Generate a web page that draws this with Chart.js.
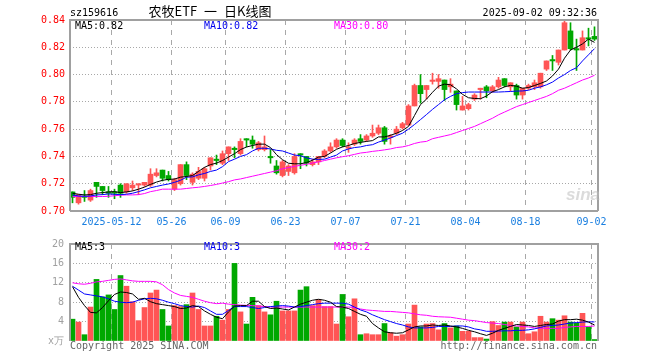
<!DOCTYPE html>
<html><head><meta charset="utf-8">
<script src="https://cdn.jsdelivr.net/npm/chart.js@4/dist/chart.umd.min.js"></script>
<style>
html,body{margin:0;padding:0;background:#fff;}
#wrap{position:relative;width:660px;height:360px;overflow:hidden;background:#fff;}
canvas{position:absolute;left:0;}
.t{position:absolute;white-space:pre;font-family:"DejaVu Sans Mono",monospace;font-size:10px;line-height:10px;}
</style></head>
<body><div id="wrap">
<canvas id="kc" width="660" height="232" style="top:0px;width:660px;height:232px"></canvas>
<canvas id="vc" width="660" height="128" style="top:232px;width:660px;height:128px"></canvas>
<div class="t" style="left:70px;top:8px;color:#000">sz159616</div>
<div class="t" style="left:110px;top:4px;width:200px;text-align:center;font-family:'Noto Sans CJK SC',sans-serif;font-size:13px;line-height:13px;word-spacing:4px;color:#000">农牧ETF 一 日K线图</div>
<div class="t" style="right:63px;top:8px;color:#000">2025-09-02 09:32:36</div>
<div class="t" style="left:75px;top:21px;color:#000">MA5:0.82</div>
<div class="t" style="left:204px;top:21px;color:#0000ee">MA10:0.82</div>
<div class="t" style="left:334px;top:21px;color:#ff00ff">MA30:0.80</div>
<div class="t" style="left:75px;top:242px;color:#000">MA5:3</div>
<div class="t" style="left:204px;top:242px;color:#0000ee">MA10:3</div>
<div class="t" style="left:334px;top:242px;color:#ff00ff">MA30:2</div>
<div class="t" style="left:70px;top:341px;color:#666">Copyright 2025 SINA.COM</div>
<div class="t" style="right:63px;top:341px;color:#666">http://finance.sina.com.cn</div>
<div class="t" style="left:566px;top:186px;font-family:'Liberation Sans',sans-serif;font-size:17px;line-height:17px;font-style:italic;font-weight:bold;color:rgba(190,190,190,0.55)">sina</div>
</div>
<script>
const dates = ['2025-04-28','2025-04-29','2025-04-30','2025-05-06','2025-05-07','2025-05-08','2025-05-09','2025-05-12','2025-05-13','2025-05-14','2025-05-15','2025-05-16','2025-05-19','2025-05-20','2025-05-21','2025-05-22','2025-05-23','2025-05-26','2025-05-27','2025-05-28','2025-05-29','2025-05-30','2025-06-03','2025-06-04','2025-06-05','2025-06-06','2025-06-09','2025-06-10','2025-06-11','2025-06-12','2025-06-13','2025-06-16','2025-06-17','2025-06-18','2025-06-19','2025-06-20','2025-06-23','2025-06-24','2025-06-25','2025-06-26','2025-06-27','2025-06-30','2025-07-01','2025-07-02','2025-07-03','2025-07-04','2025-07-07','2025-07-08','2025-07-09','2025-07-10','2025-07-11','2025-07-14','2025-07-15','2025-07-16','2025-07-17','2025-07-18','2025-07-21','2025-07-22','2025-07-23','2025-07-24','2025-07-25','2025-07-28','2025-07-29','2025-07-30','2025-07-31','2025-08-01','2025-08-04','2025-08-05','2025-08-06','2025-08-07','2025-08-08','2025-08-11','2025-08-12','2025-08-13','2025-08-14','2025-08-15','2025-08-18','2025-08-19','2025-08-20','2025-08-21','2025-08-22','2025-08-25','2025-08-26','2025-08-27','2025-08-28','2025-08-29','2025-09-01','2025-09-02'];

const open = [0.714,0.706,0.711,0.708,0.721,0.718,0.714,0.714,0.719,0.714,
0.717,0.719,0.719,0.719,0.726,0.730,0.726,0.716,0.720,0.734,
0.721,0.724,0.724,0.733,0.738,0.735,0.742,0.746,0.742,0.753,
0.752,0.745,0.745,0.740,0.733,0.726,0.729,0.728,0.742,0.740,
0.734,0.736,0.740,0.744,0.747,0.752,0.746,0.749,0.753,0.752,
0.755,0.757,0.761,0.754,0.757,0.761,0.763,0.777,0.792,0.789,
0.795,0.795,0.796,0.791,0.788,0.774,0.775,0.782,0.789,0.791,
0.788,0.791,0.797,0.791,0.792,0.785,0.790,0.791,0.791,0.804,
0.811,0.809,0.818,0.832,0.819,0.818,0.827,0.828];

const high = [0.714,0.712,0.715,0.716,0.721,0.718,0.718,0.716,0.720,0.720,
0.722,0.720,0.721,0.731,0.731,0.730,0.729,0.724,0.734,0.736,
0.728,0.732,0.732,0.739,0.741,0.744,0.747,0.747,0.753,0.753,
0.755,0.751,0.755,0.745,0.737,0.737,0.734,0.742,0.742,0.740,
0.738,0.740,0.745,0.750,0.753,0.753,0.750,0.753,0.756,0.756,
0.763,0.763,0.762,0.756,0.762,0.765,0.778,0.793,0.800,0.792,
0.801,0.800,0.796,0.797,0.788,0.784,0.779,0.786,0.790,0.792,
0.792,0.798,0.797,0.794,0.793,0.790,0.793,0.796,0.801,0.810,
0.814,0.818,0.840,0.838,0.826,0.832,0.834,0.835];

const low = [0.706,0.705,0.707,0.707,0.710,0.712,0.710,0.709,0.710,0.713,
0.715,0.712,0.718,0.718,0.725,0.722,0.722,0.715,0.719,0.723,
0.719,0.723,0.722,0.730,0.734,0.734,0.737,0.739,0.741,0.747,
0.746,0.744,0.744,0.735,0.727,0.725,0.726,0.727,0.731,0.733,
0.733,0.734,0.739,0.743,0.746,0.747,0.743,0.748,0.749,0.751,
0.754,0.756,0.749,0.749,0.756,0.760,0.763,0.777,0.779,0.782,
0.793,0.790,0.781,0.787,0.774,0.774,0.774,0.781,0.782,0.783,
0.787,0.790,0.791,0.788,0.782,0.782,0.789,0.789,0.790,0.803,
0.803,0.807,0.818,0.818,0.803,0.818,0.821,0.825];

const close = [0.710,0.712,0.710,0.715,0.718,0.715,0.713,0.713,0.713,0.720,
0.719,0.720,0.721,0.727,0.728,0.724,0.723,0.723,0.734,0.726,
0.727,0.729,0.731,0.739,0.737,0.742,0.747,0.745,0.751,0.752,
0.749,0.750,0.747,0.739,0.728,0.736,0.733,0.740,0.741,0.735,
0.736,0.740,0.744,0.747,0.752,0.748,0.747,0.752,0.751,0.755,
0.757,0.761,0.751,0.755,0.760,0.764,0.777,0.792,0.786,0.792,
0.796,0.797,0.789,0.793,0.778,0.777,0.778,0.785,0.790,0.788,
0.791,0.796,0.792,0.794,0.785,0.790,0.792,0.794,0.801,0.810,
0.810,0.818,0.838,0.819,0.818,0.827,0.826,0.826];

const ma5 = [0.713,0.7123,0.7118,0.712,0.713,0.7135,0.714,0.7142,0.7135,0.714,
0.7147,0.716,0.7175,0.7195,0.7212,0.7225,0.7232,0.7234,0.7248,0.7253,
0.726,0.729,0.732,0.734,0.7351,0.737,0.7395,0.742,0.745,0.7469,
0.748,0.749,0.749,0.7465,0.7413,0.7376,0.735,0.7346,0.7346,0.7355,
0.7372,0.7395,0.740,0.7425,0.7452,0.747,0.748,0.7495,0.7503,0.751,
0.7516,0.7543,0.7543,0.7555,0.757,0.759,0.762,0.770,0.778,0.782,
0.787,0.7915,0.793,0.7925,0.7895,0.7855,0.783,0.7825,0.7823,0.7843,
0.7875,0.789,0.791,0.7921,0.7915,0.790,0.7905,0.792,0.7935,0.7953,
0.799,0.804,0.812,0.818,0.820,0.8225,0.826,0.8236];

const ma10 = [0.7118,0.711,0.7108,0.711,0.7118,0.712,0.7125,0.7122,0.712,0.7123,
0.713,0.7142,0.7155,0.717,0.718,0.719,0.7198,0.721,0.7225,0.7248,
0.725,0.7265,0.7275,0.729,0.730,0.7325,0.7362,0.738,0.740,0.7413,
0.744,0.746,0.746,0.7455,0.7445,0.744,0.7425,0.741,0.7405,0.739,
0.738,0.7378,0.738,0.7395,0.741,0.744,0.7455,0.7465,0.747,0.748,
0.7486,0.7505,0.752,0.7535,0.7553,0.757,0.760,0.7634,0.767,0.7707,
0.7745,0.778,0.7815,0.784,0.786,0.7868,0.7872,0.7872,0.7872,0.7872,
0.7872,0.7872,0.7874,0.7876,0.7879,0.788,0.7885,0.790,0.791,0.7925,
0.7945,0.7975,0.800,0.803,0.805,0.810,0.8145,0.819];

const ma30 = [0.7106,0.7106,0.7106,0.7106,0.7106,0.7106,0.7108,0.7112,0.7116,0.7118,
0.7118,0.712,0.7128,0.7142,0.715,0.716,0.716,0.716,0.716,0.7165,
0.717,0.7174,0.718,0.7187,0.7195,0.7205,0.7215,0.7228,0.7235,0.7245,
0.7255,0.7265,0.7275,0.7285,0.7295,0.731,0.7318,0.7327,0.7335,0.7342,
0.7352,0.736,0.737,0.738,0.739,0.7398,0.7405,0.7415,0.7425,0.743,
0.7437,0.7442,0.7448,0.7455,0.7465,0.747,0.748,0.7495,0.7505,0.751,
0.753,0.754,0.755,0.756,0.7575,0.759,0.7605,0.762,0.764,0.766,
0.768,0.7705,0.7725,0.7745,0.7765,0.778,0.7795,0.781,0.7825,0.784,
0.786,0.7885,0.790,0.792,0.794,0.796,0.7975,0.7995];

const volume = [4.5,3.9,1.3,7.0,12.7,9.1,9.5,6.5,13.5,11.3,
8.1,4.2,6.9,9.9,10.5,6.5,3.1,7.3,7.1,7.5,
9.9,6.5,3.1,3.1,5.1,4.3,6.5,16.0,6.0,3.5,
9.0,7.3,6.0,5.4,8.2,6.2,6.2,6.2,10.5,11.2,
7.3,8.5,7.1,7.1,3.5,9.6,5.0,8.7,1.3,1.5,
1.3,1.3,3.6,1.7,1.0,1.3,3.5,7.4,2.9,3.5,
3.6,2.3,3.6,2.7,3.1,2.0,2.0,0.7,0.7,0.4,
4.0,3.2,3.9,3.9,2.9,3.9,1.5,1.9,5.1,3.9,
4.6,4.3,5.2,3.9,3.7,5.7,2.9,0.3];

const vma5 = [11.2,9.0,7.3,5.9,5.8,6.9,8.3,9.6,10.1,10.0,
9.7,8.6,8.8,8.1,7.7,7.5,7.3,7.1,6.7,6.8,
7.3,7.1,6.2,5.5,4.9,4.6,6.0,7.2,7.3,7.3,
8.2,8.2,7.1,6.7,6.8,6.6,6.4,7.0,7.6,8.0,
8.4,8.6,8.4,8.0,7.1,7.0,6.7,6.1,5.5,5.1,
3.6,2.7,1.9,1.7,1.6,1.7,2.3,2.9,3.1,3.1,
3.3,3.2,3.3,3.1,2.9,2.6,2.2,1.9,1.5,1.15,
1.6,2.2,2.6,3.0,3.4,3.3,3.2,3.0,3.2,3.4,
3.5,4.1,4.4,4.4,4.5,4.3,3.9,3.3];

const vma10 = [11.3,10.5,9.7,9.5,9.3,9.1,8.7,8.2,8.0,7.9,
8.0,8.4,8.7,8.8,8.7,8.4,8.0,7.7,7.3,7.1,
7.0,7.2,6.9,6.2,5.5,5.5,6.3,7.1,7.1,7.1,
6.9,6.7,6.9,7.1,7.2,7.3,7.2,7.0,7.1,7.3,
7.5,7.7,7.8,7.8,7.8,7.8,7.6,7.0,6.4,6.0,
5.4,4.9,4.4,4.0,3.6,3.3,2.9,2.7,2.7,2.7,
2.8,3.0,3.0,3.0,3.1,3.1,2.9,2.5,2.3,2.0,
2.0,2.05,2.1,2.1,2.2,2.2,2.3,2.5,2.8,3.1,
3.2,3.3,3.5,3.7,3.8,3.9,3.95,3.93];

const vma30 = [12.0,11.8,11.7,11.9,12.2,12.3,12.5,12.7,12.8,12.6,
12.4,12.3,12.3,12.3,12.2,11.6,10.6,9.9,9.4,9.2,
9.0,8.6,8.2,7.9,7.7,7.8,7.6,7.5,7.4,7.35,
7.3,7.2,7.1,7.0,7.0,7.0,7.0,7.0,7.0,7.0,
7.0,7.0,7.0,7.0,7.0,7.0,7.0,6.9,6.6,6.4,
6.3,6.2,6.1,6.1,6.0,5.9,5.8,5.6,5.4,5.3,
5.1,5.0,4.95,4.9,4.7,4.5,4.3,4.2,4.0,3.8,
3.7,3.6,3.4,3.2,3.1,3.0,2.9,2.7,2.65,2.6,
2.6,2.6,2.8,2.9,3.0,3.0,3.0,3.1];

const priceTicks = [0.70,0.72,0.74,0.76,0.78,0.80,0.82,0.84];
const volTicks = [0,4,8,12,16,20];
const gridDates = ['2025-05-12','2025-05-26','2025-06-09','2025-06-23','2025-07-07','2025-07-21','2025-08-04','2025-08-18','2025-09-02'];
const dateLabels = ['2025-05-12','05-26','06-09','06-23','07-07','07-21','08-04','08-18','09-02'];

const MONO = "'DejaVu Sans Mono', monospace";
const RED = '#ff5555', GREEN = '#00a800';
const N = dates.length;
const xs = dates.map((d, i) => i + 0.5);
const colors = close.map((c, i) => c >= open[i] ? RED : GREEN);
const gridIdx = gridDates.map(d => dates.indexOf(d));
const SHIFT = 1 / 12; // half-pixel alignment so bars fall on whole pixels

const framePlugin = {
  id: 'frame',
  afterDraw(chart, args, opts) {
    const a = chart.chartArea, ctx = chart.ctx;
    ctx.save();
    ctx.strokeStyle = '#a0a0a0';
    ctx.lineWidth = 2;
    ctx.beginPath();
    if (opts.bottom) { ctx.moveTo(a.left, a.bottom); ctx.lineTo(a.right, a.bottom); }
    ctx.moveTo(a.left, a.bottom); ctx.lineTo(a.left, a.top); ctx.lineTo(a.right, a.top); ctx.lineTo(a.right, a.bottom);
    ctx.stroke();
    ctx.restore();
  }
};

function xAxis(showLabels, h) {
  return {
    type: 'linear', min: SHIFT, max: N + SHIFT, offset: false,
    afterBuildTicks: s => { s.ticks = gridIdx.map(v => ({ value: v })); },
    afterFit: s => { s.height = h; },
    ticks: { display: showLabels, autoSkip: false, maxRotation: 0, padding: 5, color: '#1a7fe0',
      font: { family: MONO, size: 10 }, callback: (v, i) => dateLabels[i] },
    grid: { color: '#a8a8a8', lineWidth: 1, drawTicks: false, offset: false },
    border: { display: false, dash: [5, 5] }
  };
}

function lineDs(vals, color, order) {
  return { type: 'line', data: xs.map((x, i) => ({ x, y: vals[i] })), borderColor: color,
    borderWidth: 1, pointRadius: 0, tension: 0, fill: false, order };
}

Chart.defaults.animation = false;

new Chart(document.getElementById('kc'), {
  type: 'bar',
  data: { datasets: [
    { type: 'bar', data: xs.map((x, i) => ({ x, y: [low[i], high[i]] })), backgroundColor: colors,
      barThickness: 1, grouped: false, order: 5 },
    { type: 'bar', data: xs.map((x, i) => ({ x, y: [open[i], close[i]] })), backgroundColor: colors,
      barThickness: 5, grouped: false, minBarLength: 1, order: 4 },
    lineDs(ma30, '#ff00ff', 3),
    lineDs(ma10, '#0000ff', 2),
    lineDs(ma5, '#000000', 1)
  ] },
  options: {
    responsive: false, animation: false, devicePixelRatio: 1,
    layout: { padding: { left: 0, right: 62, top: 20, bottom: 0 } },
    plugins: { legend: { display: false }, tooltip: { enabled: false }, frame: { bottom: true } },
    scales: {
      x: xAxis(true, 21),
      y: {
        type: 'linear', min: 0.70, max: 0.84,
        afterBuildTicks: s => { s.ticks = priceTicks.map(v => ({ value: v })); },
        afterFit: s => { s.width = 70; },
        ticks: { color: '#ff0000', padding: 5, font: { family: MONO, size: 10 }, callback: v => Number(v).toFixed(2) },
        grid: { drawTicks: false, lineWidth: 1,
          color: c => (c.index === 0 || c.index === priceTicks.length - 1) ? 'rgba(0,0,0,0)' : '#a8a8a8' },
        border: { display: false, dash: [1, 2] }
      }
    }
  },
  plugins: [framePlugin]
});

new Chart(document.getElementById('vc'), {
  type: 'bar',
  data: { datasets: [
    { type: 'bar', data: xs.map((x, i) => ({ x, y: volume[i] })), backgroundColor: colors,
      barThickness: 5, grouped: false, order: 4 },
    lineDs(vma30, '#ff00ff', 3),
    lineDs(vma10, '#0000ff', 2),
    lineDs(vma5, '#000000', 1)
  ] },
  options: {
    responsive: false, animation: false, devicePixelRatio: 1,
    layout: { padding: { left: 0, right: 62, top: 8, bottom: 0 } },
    plugins: { legend: { display: false }, tooltip: { enabled: false }, frame: { bottom: false } },
    scales: {
      x: xAxis(false, 19),
      y: {
        type: 'linear', min: 0, max: 20,
        afterBuildTicks: s => { s.ticks = volTicks.map(v => ({ value: v })); },
        afterFit: s => { s.width = 70; },
        ticks: { color: '#a0a0a0', padding: 6, font: { family: MONO, size: 10 },
          callback: v => v === 0 ? 'x万' : String(v) },
        grid: { drawTicks: false, lineWidth: 1,
          color: c => (c.index === 0 || c.index === volTicks.length - 1) ? 'rgba(0,0,0,0)' : '#a8a8a8' },
        border: { display: false, dash: [1, 2] }
      }
    }
  },
  plugins: [framePlugin]
});
</script>
</body></html>
